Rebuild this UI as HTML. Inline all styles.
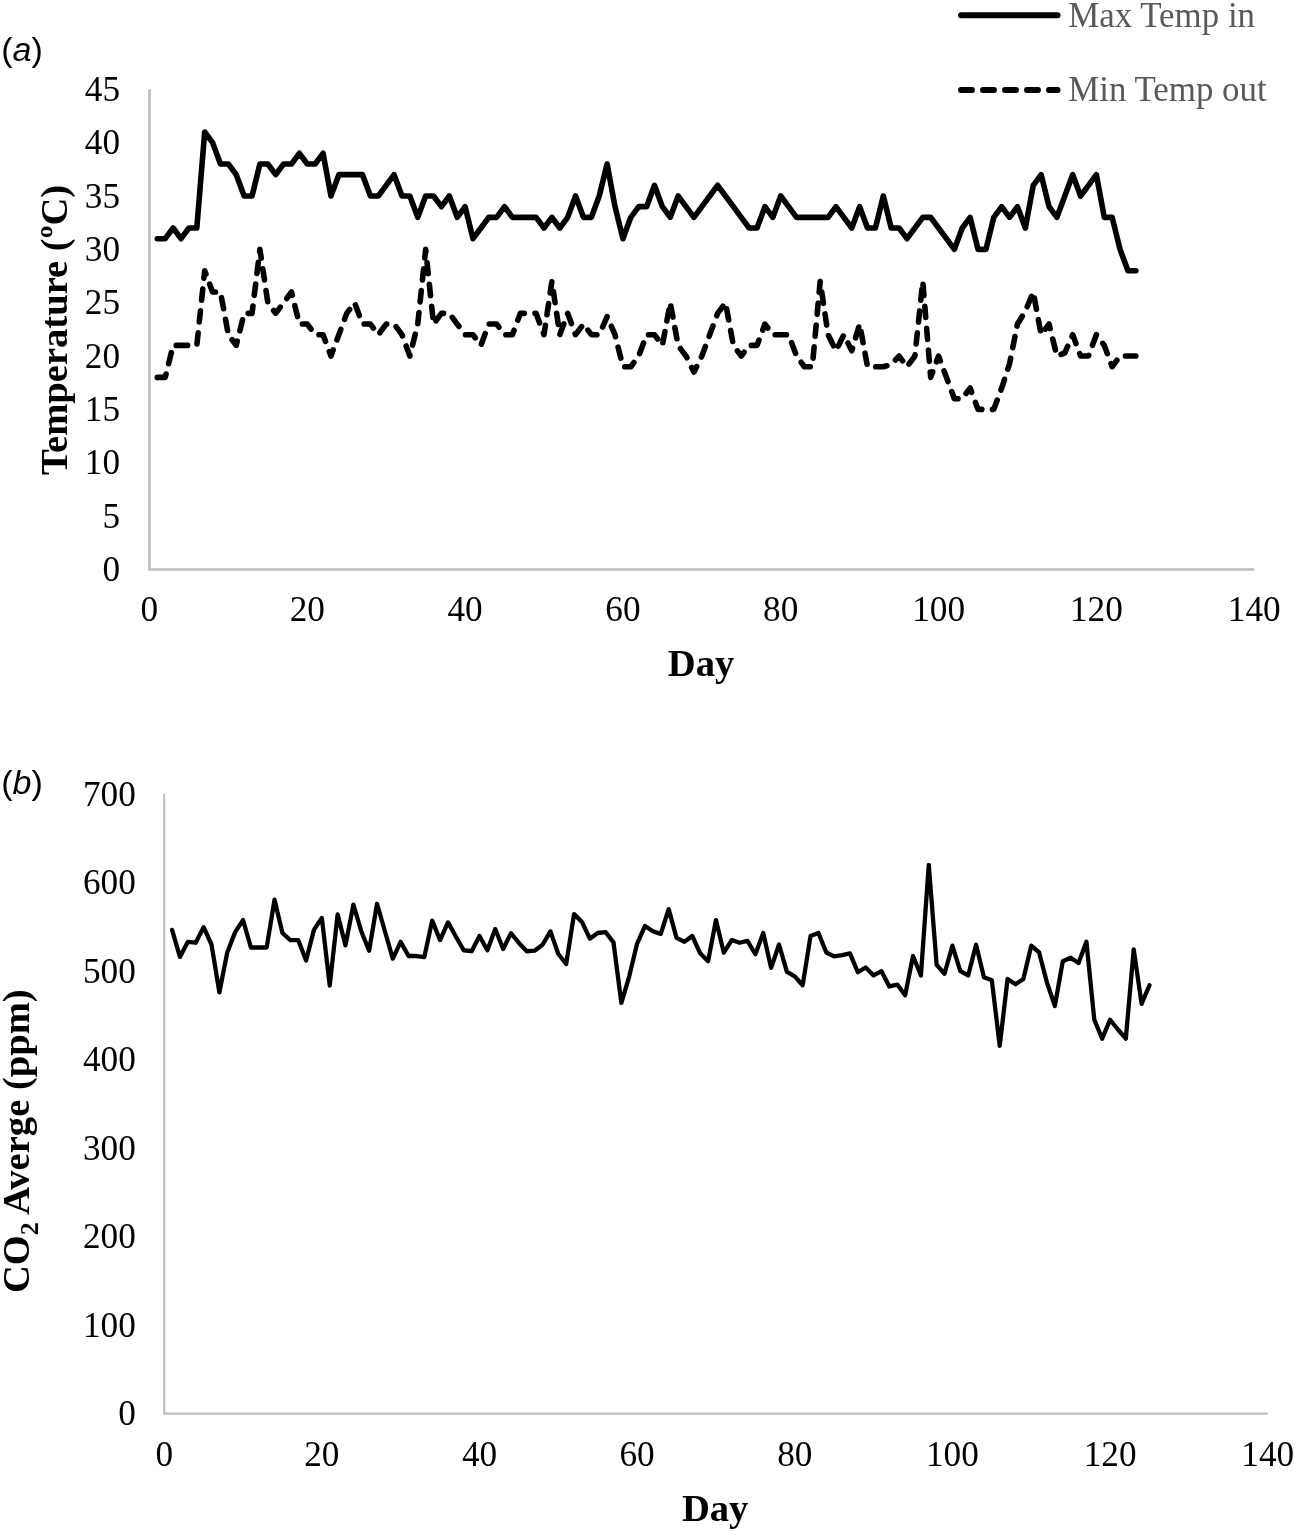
<!DOCTYPE html>
<html lang="en">
<head>
<meta charset="utf-8">
<title>Temperature and CO2 average by day</title>
<style>
html,body{margin:0;padding:0;background:#fff;}
body{width:1295px;height:1531px;overflow:hidden;}
svg{display:block;}
.tk{font-family:"Liberation Serif","Times New Roman",serif;font-size:35.2px;fill:#000;}
.tt{font-family:"Liberation Serif","Times New Roman",serif;font-size:38.6px;font-weight:bold;fill:#000;}
.lg{font-family:"Liberation Serif","Times New Roman",serif;font-size:34.9px;fill:#595959;}
.lb{font-family:"Liberation Sans",Arial,sans-serif;font-size:34.0px;fill:#000;}
.ax{stroke:#bfbfbf;fill:none;}
.ln{stroke:#000;fill:none;stroke-linecap:round;stroke-linejoin:round;}
</style>
</head>
<body>
<svg width="1295" height="1531" viewBox="0 0 1295 1531">
<rect x="0" y="0" width="1295" height="1531" fill="#ffffff"/>

<!-- panel a -->
<text class="lb" x="1.2" y="61.2">(<tspan font-style="italic">a</tspan>)</text>
<path class="ax" stroke-width="2.6" d="M149.45,89.30 V569.45 H1254.20"/>
<text class="tk" text-anchor="end" x="120" y="581.0">0</text>
<text class="tk" text-anchor="end" x="120" y="527.6">5</text>
<text class="tk" text-anchor="end" x="120" y="474.3">10</text>
<text class="tk" text-anchor="end" x="120" y="420.9">15</text>
<text class="tk" text-anchor="end" x="120" y="367.6">20</text>
<text class="tk" text-anchor="end" x="120" y="314.2">25</text>
<text class="tk" text-anchor="end" x="120" y="260.9">30</text>
<text class="tk" text-anchor="end" x="120" y="207.5">35</text>
<text class="tk" text-anchor="end" x="120" y="154.2">40</text>
<text class="tk" text-anchor="end" x="120" y="100.8">45</text>
<text class="tk" text-anchor="middle" x="149.4" y="620.8">0</text>
<text class="tk" text-anchor="middle" x="307.3" y="620.8">20</text>
<text class="tk" text-anchor="middle" x="465.1" y="620.8">40</text>
<text class="tk" text-anchor="middle" x="622.9" y="620.8">60</text>
<text class="tk" text-anchor="middle" x="780.7" y="620.8">80</text>
<text class="tk" text-anchor="middle" x="938.6" y="620.8">100</text>
<text class="tk" text-anchor="middle" x="1096.4" y="620.8">120</text>
<text class="tk" text-anchor="middle" x="1254.2" y="620.8">140</text>
<text class="tt" text-anchor="middle" x="701" y="675.7">Day</text>
<text class="tt" text-anchor="middle" transform="translate(66.7,330) rotate(-90)">Temperature (ºC)</text>
<polyline class="ln" stroke-width="5.6" points="157.34,238.68 165.23,238.68 173.12,228.01 181.01,238.68 188.91,228.01 196.80,228.01 204.69,131.98 212.58,142.65 220.47,163.99 228.36,163.99 236.25,174.66 244.14,196.00 252.03,196.00 259.92,163.99 267.82,163.99 275.71,174.66 283.60,163.99 291.49,163.99 299.38,153.32 307.27,163.99 315.16,163.99 323.05,153.32 330.94,196.00 338.84,174.66 346.73,174.66 354.62,174.66 362.51,174.66 370.40,196.00 378.29,196.00 386.18,185.33 394.07,174.66 401.96,196.00 409.86,196.00 417.75,217.34 425.64,196.00 433.53,196.00 441.42,206.67 449.31,196.00 457.20,217.34 465.09,206.67 472.98,238.68 480.88,228.01 488.77,217.34 496.66,217.34 504.55,206.67 512.44,217.34 520.33,217.34 528.22,217.34 536.11,217.34 544.00,228.01 551.89,217.34 559.79,228.01 567.68,217.34 575.57,196.00 583.46,217.34 591.35,217.34 599.24,196.00 607.13,163.99 615.02,206.67 622.91,238.68 630.81,217.34 638.70,206.67 646.59,206.67 654.48,185.33 662.37,206.67 670.26,217.34 678.15,196.00 686.04,206.67 693.93,217.34 701.83,206.67 709.72,196.00 717.61,185.33 725.50,196.00 733.39,206.67 741.28,217.34 749.17,228.01 757.06,228.01 764.95,206.67 772.84,217.34 780.74,196.00 788.63,206.67 796.52,217.34 804.41,217.34 812.30,217.34 820.19,217.34 828.08,217.34 835.97,206.67 843.86,217.34 851.76,228.01 859.65,206.67 867.54,228.01 875.43,228.01 883.32,196.00 891.21,228.01 899.10,228.01 906.99,238.68 914.88,228.01 922.77,217.34 930.67,217.34 938.56,228.01 946.45,238.68 954.34,249.35 962.23,228.01 970.12,217.34 978.01,249.35 985.90,249.35 993.79,217.34 1001.69,206.67 1009.58,217.34 1017.47,206.67 1025.36,228.01 1033.25,185.33 1041.14,174.66 1049.03,206.67 1056.92,217.34 1064.81,196.00 1072.71,174.66 1080.60,196.00 1088.49,185.33 1096.38,174.66 1104.27,217.34 1112.16,217.34 1120.05,249.35 1127.94,270.69 1135.83,270.69"/>
<polyline class="ln" stroke-width="5.6" stroke-dasharray="11.3 10.7" points="157.34,377.39 165.23,377.39 173.12,345.38 181.01,345.38 188.91,345.38 196.80,345.38 204.69,270.69 212.58,292.03 220.47,292.03 228.36,334.71 236.25,345.38 244.14,313.37 252.03,313.37 259.92,249.35 267.82,302.70 275.71,313.37 283.60,302.70 291.49,292.03 299.38,324.04 307.27,324.04 315.16,334.71 323.05,334.71 330.94,356.05 338.84,334.71 346.73,313.37 354.62,302.70 362.51,324.04 370.40,324.04 378.29,334.71 386.18,324.04 394.07,324.04 401.96,334.71 409.86,356.05 417.75,324.04 425.64,249.35 433.53,324.04 441.42,313.37 449.31,313.37 457.20,324.04 465.09,334.71 472.98,334.71 480.88,345.38 488.77,324.04 496.66,324.04 504.55,334.71 512.44,334.71 520.33,313.37 528.22,313.37 536.11,313.37 544.00,334.71 551.89,281.36 559.79,334.71 567.68,313.37 575.57,334.71 583.46,324.04 591.35,334.71 599.24,334.71 607.13,316.57 615.02,334.71 622.91,366.72 630.81,366.72 638.70,356.05 646.59,334.71 654.48,334.71 662.37,345.38 670.26,302.70 678.15,345.38 686.04,356.05 693.93,372.06 701.83,356.05 709.72,334.71 717.61,313.37 725.50,302.70 733.39,345.38 741.28,356.05 749.17,345.38 757.06,345.38 764.95,324.04 772.84,334.71 780.74,334.71 788.63,334.71 796.52,356.05 804.41,366.72 812.30,366.72 820.19,281.36 828.08,334.71 835.97,350.72 843.86,334.71 851.76,350.72 859.65,324.04 867.54,366.72 875.43,366.72 883.32,366.72 891.21,364.59 899.10,356.05 906.99,366.72 914.88,356.05 922.77,281.36 930.67,377.39 938.56,356.05 946.45,377.39 954.34,398.73 962.23,398.73 970.12,388.06 978.01,409.40 985.90,409.40 993.79,409.40 1001.69,388.06 1009.58,363.52 1017.47,324.04 1025.36,311.24 1033.25,292.03 1041.14,334.71 1049.03,324.04 1056.92,356.05 1064.81,352.85 1072.71,334.71 1080.60,356.05 1088.49,356.05 1096.38,334.71 1104.27,345.38 1112.16,366.72 1120.05,356.05 1127.94,356.05 1135.83,356.05"/>
<line class="ln" stroke-width="5.9" x1="961" y1="15.3" x2="1057.6" y2="15.3"/>
<line class="ln" stroke-width="5.9" stroke-dasharray="11 11" x1="961" y1="90" x2="1057.6" y2="90"/>
<text class="lg" x="1068.2" y="26.8">Max Temp in</text>
<text class="lg" x="1068.2" y="100.9">Min Temp out</text>
<!-- panel b -->
<text class="lb" x="1.2" y="794.2">(<tspan font-style="italic">b</tspan>)</text>
<path class="ax" stroke-width="2.2" d="M164.20,794.00 V1413.70 H1267.70"/>
<text class="tk" text-anchor="end" x="135.8" y="1425.2">0</text>
<text class="tk" text-anchor="end" x="135.8" y="1336.7">100</text>
<text class="tk" text-anchor="end" x="135.8" y="1248.1">200</text>
<text class="tk" text-anchor="end" x="135.8" y="1159.6">300</text>
<text class="tk" text-anchor="end" x="135.8" y="1071.1">400</text>
<text class="tk" text-anchor="end" x="135.8" y="982.6">500</text>
<text class="tk" text-anchor="end" x="135.8" y="894.0">600</text>
<text class="tk" text-anchor="end" x="135.8" y="805.5">700</text>
<text class="tk" text-anchor="middle" x="164.2" y="1465.6">0</text>
<text class="tk" text-anchor="middle" x="321.8" y="1465.6">20</text>
<text class="tk" text-anchor="middle" x="479.5" y="1465.6">40</text>
<text class="tk" text-anchor="middle" x="637.1" y="1465.6">60</text>
<text class="tk" text-anchor="middle" x="794.8" y="1465.6">80</text>
<text class="tk" text-anchor="middle" x="952.4" y="1465.6">100</text>
<text class="tk" text-anchor="middle" x="1110.1" y="1465.6">120</text>
<text class="tk" text-anchor="middle" x="1267.7" y="1465.6">140</text>
<text class="tt" text-anchor="middle" x="715.2" y="1520.5">Day</text>
<text class="tt" text-anchor="middle" transform="translate(28.9,1141.2) rotate(-90)">CO<tspan font-size="26" dy="9">2</tspan><tspan dy="-9"> Averge (ppm)</tspan></text>
<polyline class="ln" stroke-width="4.3" points="172.08,929.89 179.96,956.89 187.85,941.84 195.73,942.73 203.61,927.15 211.49,944.50 219.38,992.30 227.26,952.47 235.14,932.10 243.02,920.06 250.90,947.51 258.79,947.51 266.67,947.51 274.55,899.70 282.43,932.99 290.31,940.07 298.20,940.07 306.08,960.43 313.96,929.89 321.84,917.94 329.73,985.49 337.61,914.40 345.49,945.38 353.37,904.66 361.25,931.22 369.14,950.70 377.02,903.78 384.90,931.22 392.78,958.66 400.66,941.84 408.55,956.01 416.43,956.01 424.31,957.16 432.19,920.60 440.07,940.07 447.96,922.37 455.84,936.53 463.72,950.25 471.60,951.23 479.49,936.00 487.37,950.25 495.25,929.01 503.13,948.92 511.01,933.26 518.90,942.91 526.78,951.23 534.66,950.70 542.54,944.76 550.42,931.40 558.31,953.97 566.19,963.97 574.07,914.13 581.95,921.92 589.84,938.66 597.72,932.99 605.60,932.10 613.48,942.37 621.36,1002.93 629.25,976.37 637.13,943.61 645.01,925.91 652.89,931.22 660.77,933.88 668.66,909.09 676.54,937.86 684.42,941.84 692.30,936.00 700.19,953.35 708.07,961.32 715.95,920.06 723.83,952.73 731.71,940.07 739.60,942.73 747.48,940.96 755.36,954.24 763.24,932.99 771.12,967.87 779.01,944.50 786.89,971.94 794.77,976.37 802.65,985.22 810.54,936.00 818.42,932.99 826.30,952.47 834.18,956.36 842.06,955.12 849.95,953.35 857.83,972.21 865.71,967.52 873.59,975.48 881.47,971.23 889.36,986.46 897.24,984.60 905.12,995.31 913.00,956.01 920.89,975.48 928.77,865.00 936.65,964.86 944.53,973.71 952.41,945.65 960.30,971.06 968.18,975.48 976.06,944.76 983.94,977.25 991.83,980.35 999.71,1045.78 1007.59,979.02 1015.47,984.34 1023.35,979.02 1031.24,945.65 1039.12,952.47 1047.00,982.74 1054.88,1005.94 1062.76,961.32 1070.65,957.78 1078.53,963.09 1086.41,941.84 1094.29,1019.75 1102.17,1038.69 1110.06,1019.75 1117.94,1029.49 1125.82,1038.69 1133.70,949.37 1141.59,1003.81 1149.47,985.22"/>
</svg>
</body>
</html>
